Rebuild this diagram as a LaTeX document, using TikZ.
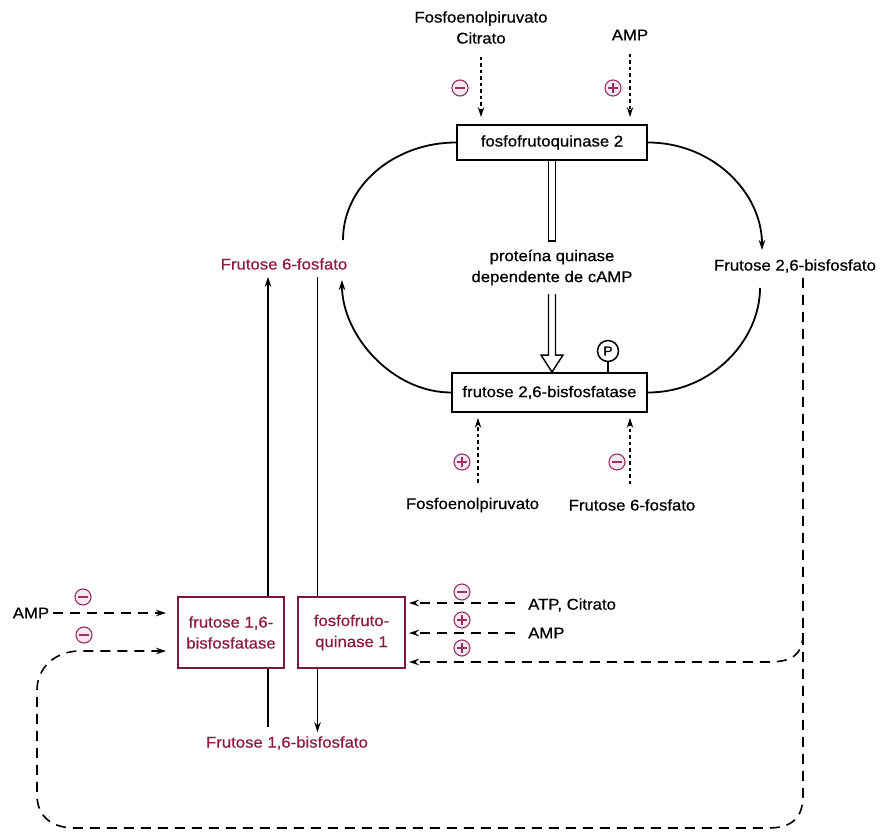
\documentclass[tikz,border=0pt]{standalone}
\usepackage{fontspec}
\setmainfont{Liberation Sans}[FakeStretch=1.08,FakeBold=0.6]
\usetikzlibrary{arrows.meta,calc}
\definecolor{mar}{RGB}{140,28,64}
\definecolor{marbox}{RGB}{120,25,55}
\definecolor{mag}{RGB}{150,50,100}
\definecolor{pinkf}{RGB}{250,232,240}
\begin{document}
\begin{tikzpicture}[x=1pt,y=-1pt,
  every node/.style={font=\fontsize{15.5}{21}\selectfont},
  box/.style={draw, line width=1.9pt, minimum width=190pt, minimum height=35pt, inner sep=0pt},
  lbox/.style={draw=marbox, line width=1.9pt, text=mar, align=center, minimum width=106pt, minimum height=71pt, inner sep=0pt},
  lbl/.style={align=center, inner sep=1pt},
  mlbl/.style={lbl, text=mar},
  sgn/.style={circle, draw=mag, fill=pinkf, line width=1.1pt, minimum size=16pt, inner sep=0pt},
  minus/.style={sgn, path picture={\draw[mag, line width=1.3pt]
      ([xshift=-5pt]path picture bounding box.center) -- ([xshift=5pt]path picture bounding box.center);}},
  plus/.style={sgn, path picture={\draw[mag, line width=1.3pt]
      ([xshift=-5pt]path picture bounding box.center) -- ([xshift=5pt]path picture bounding box.center)
      ([yshift=-5pt]path picture bounding box.center) -- ([yshift=5pt]path picture bounding box.center);}},
  tip/.style={-{Stealth[length=10pt,width=6.5pt]}},
  arc/.style={line width=1.8pt},
  dsh/.style={dash pattern=on 10pt off 7pt, line width=1.6pt},
  fdsh/.style={dash pattern=on 3.5pt off 3pt, line width=1.2pt},
]
\fill[white] (0,0) rectangle (880,834);
\useasboundingbox (0,0) rectangle (880,834);

% --- upper enzymes and metabolites
\node[box] (pfk2) at (552,142.5) {fosfofrutoquinase 2};
\node[box, minimum width=195pt, minimum height=39pt] (fbp2) at (549.5,392.5) {frutose 2,6-bisfosfatase};
\node[mlbl] (f6p) at (284,264) {Frutose 6-fosfato};
\node[lbl] (f26bp) at (795,266) {Frutose 2,6-bisfosfato};
\node[lbl] (pka) at (552,267.5) {proteína quinase\\dependente de cAMP};

% --- effectors top
\node[lbl] (pepcit) at (481,27.5) {Fosfoenolpiruvato\\Citrato};
\node[lbl] (amptop) at (630,35) {AMP};
\node[minus] (m1) at (460,88) {};
\node[plus] (p1) at (613,88) {};
\draw[fdsh, tip, shorten <=12pt, shorten >=7pt] (pepcit.south) -- (pepcit.south |- pfk2.north);
\draw[fdsh, tip, shorten <=12pt, shorten >=7pt] (amptop.south) -- (amptop.south |- pfk2.north);

% --- effectors bottom
\node[lbl] (pepbot) at (472.5,505) {Fosfoenolpiruvato};
\node[lbl] (f6pbot) at (632,505) {Frutose 6-fosfato};
\node[plus] (p2) at (462,462) {};
\node[minus] (m2) at (617,462) {};
\coordinate (pb) at ([xshift=5.5pt]pepbot.north);
\coordinate (fb) at ([xshift=-2pt]f6pbot.north);
\draw[fdsh, tip, shorten <=14pt, shorten >=5pt] (pb) -- (pb |- fbp2.south);
\draw[fdsh, tip, shorten <=14pt, shorten >=5pt] (fb) -- (fb |- fbp2.south);

% --- P
\node[circle, draw, line width=1.5pt, minimum size=21pt, inner sep=0pt, font=\fontsize{13}{14}\selectfont] (P) at (608,351) {P};
\draw[line width=1.5pt] (P.south) -- (P.south |- fbp2.north);

% --- hollow arrows (protein kinase)
\draw[line width=1.4pt] ([xshift=-3.5pt]pfk2.south) -- ++(0,80) -- ++(7,0) -- ++(0,-80);
\coordinate (hd) at (pfk2.south |- fbp2.north);
\draw[line width=1.4pt, line join=miter] ($(hd)+(-3.5,-78)$) -- ($(hd)+(-3.5,-17)$) -- ($(hd)+(-11,-17)$)
   -- (hd) -- ($(hd)+(11,-17)$) -- ($(hd)+(3.5,-17)$) -- ($(hd)+(3.5,-78)$);

% --- cycle curves
\coordinate (a1) at (343,240);
\coordinate (a2) at (342,280);
\coordinate (a3) at (762,250);
\coordinate (a4) at (760,288);
\draw[arc] (pfk2.west) .. controls (395,142.5) and (343,185) .. (a1);
\draw[arc, tip] (fbp2.west) .. controls (392,392.5) and (342,335) .. (a2);
\draw[arc, tip] (pfk2.east) .. controls (712,142.5) and (762,192) .. (a3);
\draw[arc] (a4) .. controls (760,340) and (712,392.5) .. (fbp2.east);

% --- lower enzymes
\node[lbox] (fbp1) at (231,632.5) {frutose 1,6-\\bisfosfatase};
\node[lbox, minimum width=107pt] (pfk1) at (351.5,632.5) {fosfofruto-\\quinase 1};
\node[mlbl] (f16bp) at (287,743) {Frutose 1,6-bisfosfato};

\coordinate (u1) at ([xshift=37pt]fbp1.north);
\coordinate (u2) at ([xshift=-34pt]pfk1.north);
\coordinate (u3) at ([xshift=37pt]fbp1.south);
\coordinate (u4) at ([xshift=-34pt]pfk1.south);
\draw[arc, tip, shorten >=6pt] (u1) -- (u1 |- f6p.south);
\draw[arc, shorten <=6pt] (u2 |- f6p.south) -- (u2);
\draw[arc, shorten >=8pt] (u3) -- (u3 |- f16bp.north);
\draw[arc, tip, shorten >=3pt] (u4) -- (u4 |- f16bp.north);

% --- left effectors
\node[lbl] (ampleft) at (31,613) {AMP};
\node[minus] (m3) at (83,597) {};
\node[minus] (m4) at (84,635) {};
\draw[dsh, tip, shorten <=3pt, shorten >=11pt] (ampleft.east) -- (fbp1.west |- ampleft.east);

% --- right effectors
\node[lbl, anchor=west] (atpcit) at (527,605) {ATP, Citrato};
\node[lbl, anchor=west] (ampright) at (527,633) {AMP};
\node[minus] (m5) at (462,592) {};
\node[plus] (p3) at (462,620) {};
\node[plus] (p4) at (462,648) {};
\draw[dsh, tip, shorten <=12pt, shorten >=3pt] ([yshift=2pt]atpcit.west) -- ([yshift=2pt]pfk1.east |- atpcit.west);
\draw[dsh, tip, shorten <=12pt, shorten >=3pt] (ampright.west) -- (pfk1.east |- ampright.west);

% --- feedback dashed loop from fructose 2,6-bisphosphate
\coordinate (ds) at ([xshift=8pt,yshift=-4pt]f26bp.south);
\coordinate (br) at (803,633);
\coordinate (y651) at (0,651);
\coordinate (y662) at (0,662);
\draw[dsh, tip, shorten >=11pt] (ds) -- (803,795) .. controls (803,818) and (792,828) .. (768,828)
   -- (75,828) .. controls (50,828) and (37,815) .. (37,795) -- (37,690)
   .. controls (37,668) and (55,651) .. (80,651) -- (fbp1.west |- y651);
\draw[dsh, tip, shorten >=3pt] (br) .. controls (803,655) and (792,662) .. (768,662) -- (pfk1.east |- y662);
\end{tikzpicture}
\end{document}
